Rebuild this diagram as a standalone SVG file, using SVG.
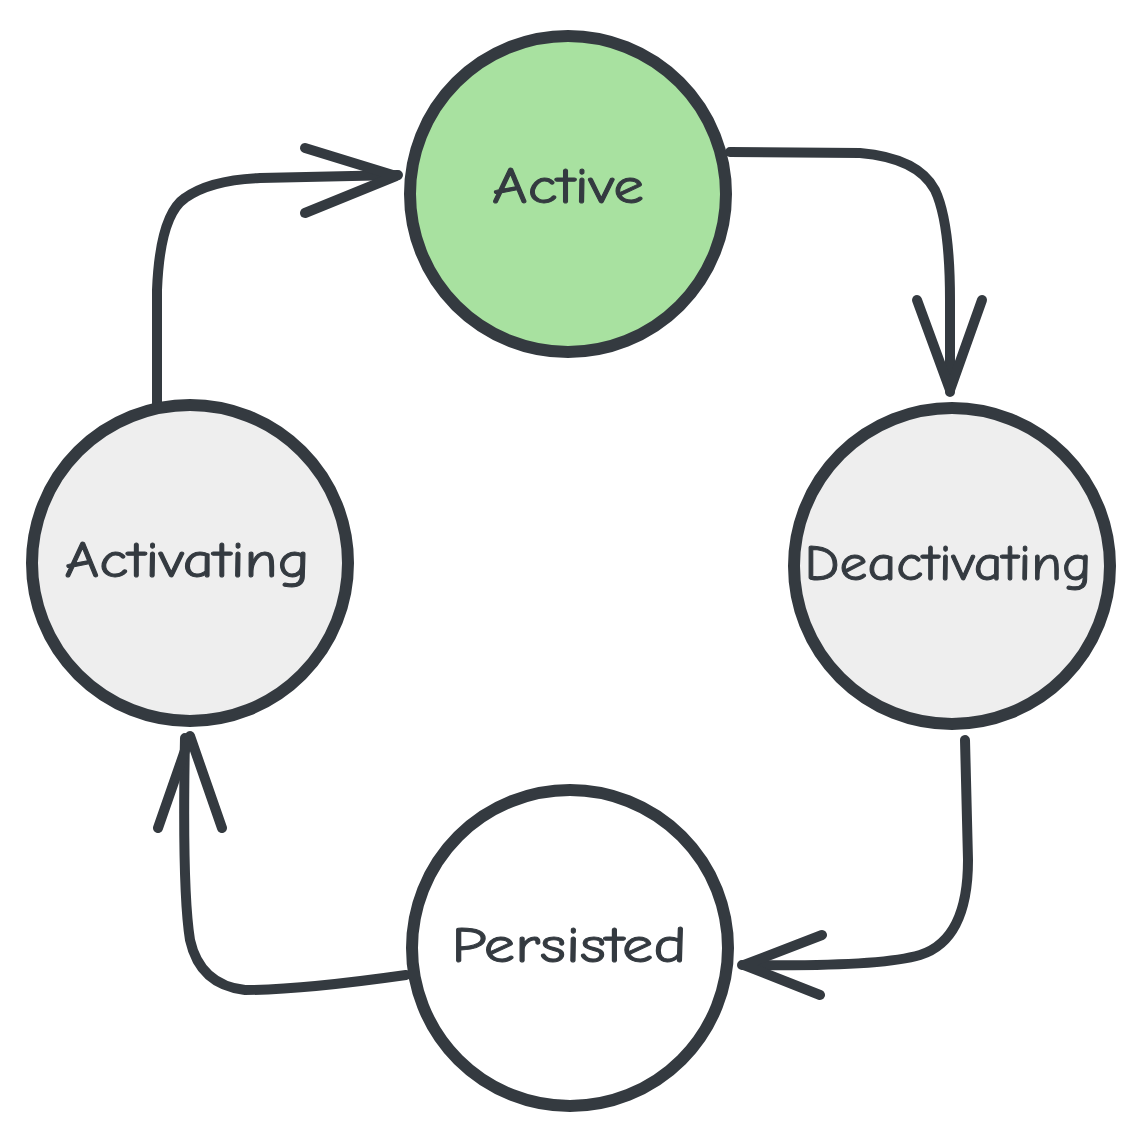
<svg xmlns="http://www.w3.org/2000/svg" width="1136" height="1136" viewBox="0 0 1136 1136">
<style>
.node{stroke:#343a40;stroke-width:12;stroke-linejoin:round}
.lbl{font-family:"Comic Neue","Liberation Sans",sans-serif;font-size:50px;fill:#343a40;stroke:#343a40;stroke-width:1;text-anchor:middle}
.edge{fill:none;stroke:#343a40;stroke-width:10;stroke-linecap:round;stroke-linejoin:round}
</style>
<rect width="1136" height="1136" fill="#ffffff"/>
<g id="connectors">
  <path class="edge" d="M730 152 L860 153 Q918 158 935 190 Q950 222 950 300 L950 392"/>
  <path class="edge" d="M917 300 L950 390 L982 300"/>
  <path class="edge" d="M965 740 L968 860 Q968 940 920 955 Q880 967 742 965"/>
  <path class="edge" d="M822 935 L744 965 L820 995"/>
  <path class="edge" d="M406 975 Q300 990 245 990 Q200 985 190 940 Q182 890 185 738"/>
  <path class="edge" d="M158 828 L190 736 L222 828"/>
  <path class="edge" d="M157 405 L157 290 Q160 215 185 198 Q210 180 260 178 L398 175"/>
  <path class="edge" d="M305 148 L396 176 L305 213"/>
</g>
<g id="node-active">
  <circle class="node" cx="568" cy="194" r="158" fill="#a8e1a0"/>
  <text class="lbl" x="568" y="203" textLength="152" lengthAdjust="spacingAndGlyphs">Active</text>
</g>
<g id="node-deactivating">
  <circle class="node" cx="952" cy="566" r="158" fill="#eeeeee"/>
  <text class="lbl" x="948" y="580" textLength="287" lengthAdjust="spacingAndGlyphs">Deactivating</text>
</g>
<g id="node-persisted">
  <circle class="node" cx="570" cy="948" r="158" fill="#ffffff"/>
  <text class="lbl" x="569" y="962" textLength="235" lengthAdjust="spacingAndGlyphs">Persisted</text>
</g>
<g id="node-activating">
  <circle class="node" cx="190" cy="563" r="158" fill="#eeeeee"/>
  <text class="lbl" x="187" y="577" textLength="245" lengthAdjust="spacingAndGlyphs">Activating</text>
</g>
</svg>
